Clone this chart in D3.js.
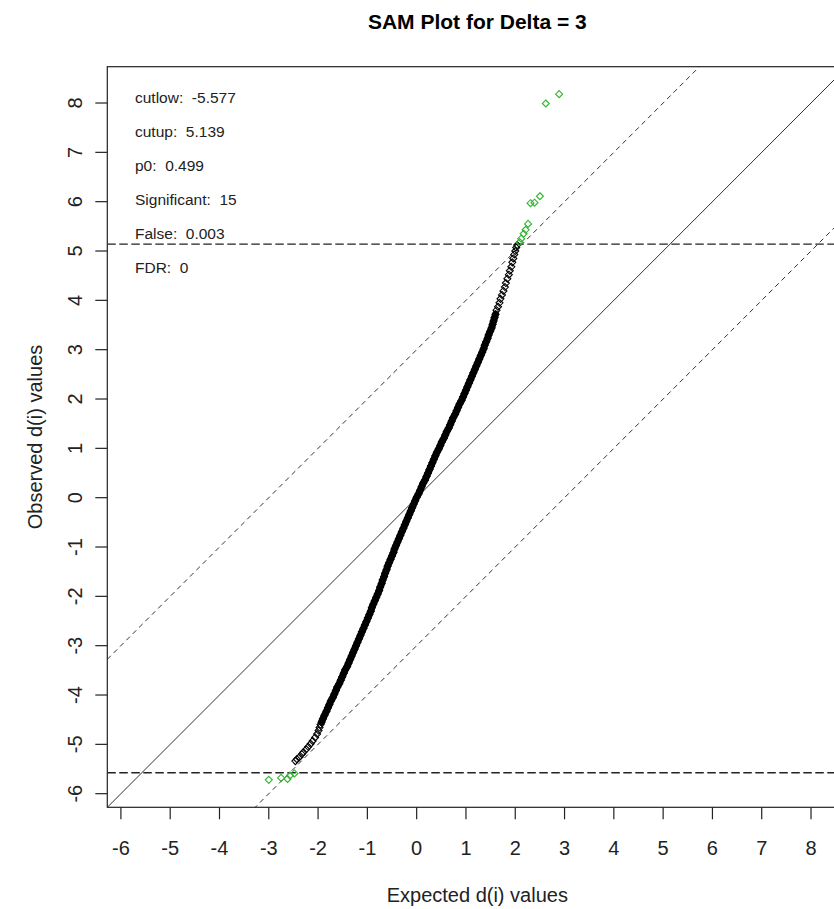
<!DOCTYPE html>
<html lang="en">
<head>
  <meta charset="UTF-8">
  <title>SAM Plot for Delta = 3</title>
  <script src="https://d3js.org/d3.v7.min.js"></script>
  <style>
    body { margin: 0; padding: 0; background: #fff; }
    svg { display: block; font-family: "Liberation Sans", Arial, sans-serif; }
    .frame { fill: none; stroke: #222; stroke-width: 1.2px; }
    .tick { stroke: #222; stroke-width: 1.2px; }
    .ticklab { font-size: 20px; fill: #222; text-anchor: middle; }
    .axtitle { font-size: 20px; fill: #222; text-anchor: middle; }
    .title { font-size: 21px; font-weight: bold; fill: #000; text-anchor: middle; }
    .stat { font-size: 15.5px; fill: #222; white-space: pre; }
  </style>
</head>
<body>
  <svg id="chart" width="834" height="909"></svg>

  <script>
    const delta = 3;
    const cutlow = -5.577;
    const cutup = 5.139;

    // dense part of the curve (thousands of genes packed together)
    const bandObserved = [
      -4.55, -4.48, -4.41, -4.33, -4.26, -4.19, -4.12, -4.05,
      -3.98, -3.91, -3.84, -3.77, -3.70, -3.63, -3.56,
      -3.49, -3.42, -3.35, -3.28, -3.21, -3.14, -3.07,
      -3.00, -2.93, -2.86, -2.79, -2.72, -2.65, -2.58,
      -2.51, -2.44, -2.37, -2.30, -2.23, -2.16, -2.09,
      -2.02, -1.95, -1.88, -1.81, -1.74, -1.67, -1.60, -1.53,
      -1.46, -1.39, -1.32, -1.25, -1.18, -1.11, -1.04,
      -0.97, -0.90, -0.83, -0.76, -0.69, -0.62, -0.55,
      -0.48, -0.41, -0.34, -0.27, -0.20, -0.13, -0.06,
      0.01, 0.08, 0.15, 0.22, 0.29, 0.36, 0.43,
      0.50, 0.57, 0.64, 0.71, 0.78, 0.85, 0.92,
      0.99, 1.06, 1.13, 1.20, 1.27, 1.34, 1.41, 1.48,
      1.55, 1.62, 1.69, 1.76, 1.83, 1.90, 1.97,
      2.04, 2.11, 2.18, 2.25, 2.32, 2.39, 2.46,
      2.53, 2.60, 2.67, 2.74, 2.81, 2.88, 2.95,
      3.02, 3.09, 3.16, 3.23, 3.30, 3.37, 3.44,
      3.51, 3.58, 3.65, 3.72
    ];
    const bandExpected = [
      -1.93, -1.90, -1.87, -1.83, -1.80, -1.77, -1.74, -1.70,
      -1.67, -1.64, -1.61, -1.57, -1.54, -1.51, -1.48,
      -1.45, -1.41, -1.38, -1.35, -1.32, -1.29, -1.26,
      -1.23, -1.20, -1.17, -1.14, -1.11, -1.08, -1.05,
      -1.02, -0.99, -0.96, -0.93, -0.91, -0.88, -0.85,
      -0.82, -0.79, -0.76, -0.74, -0.71, -0.69, -0.66, -0.64,
      -0.61, -0.59, -0.56, -0.53, -0.50, -0.47, -0.45,
      -0.42, -0.39, -0.36, -0.33, -0.30, -0.27, -0.24,
      -0.21, -0.18, -0.15, -0.12, -0.09, -0.06, -0.03,
      0.00, 0.04, 0.07, 0.10, 0.13, 0.17, 0.20,
      0.23, 0.26, 0.29, 0.32, 0.35, 0.38, 0.41,
      0.45, 0.48, 0.51, 0.55, 0.58, 0.61, 0.65, 0.68,
      0.71, 0.74, 0.78, 0.81, 0.84, 0.87, 0.91,
      0.94, 0.97, 1.00, 1.03, 1.06, 1.09, 1.12,
      1.15, 1.18, 1.21, 1.24, 1.27, 1.30, 1.33,
      1.36, 1.38, 1.41, 1.44, 1.46, 1.49, 1.52,
      1.54, 1.56, 1.58, 1.60
    ];

    // sparser tails, not called significant
    const tailObserved = [
      -5.34, -5.30, -5.26, -5.20, -5.16, -5.10, -5.05, -4.99, -4.93, -4.86, -4.79, -4.72, -4.66, -4.60,
      3.80, 3.87, 3.95, 4.03, 4.11, 4.19, 4.27, 4.35, 4.44, 4.52, 4.60, 4.68, 4.77, 4.85, 4.93, 5.00, 5.07, 5.12
    ];
    const tailExpected = [
      -2.46, -2.43, -2.38, -2.33, -2.30, -2.24, -2.20, -2.15, -2.11, -2.06, -2.02, -1.99, -1.97, -1.95,
      1.62, 1.65, 1.68, 1.70, 1.73, 1.76, 1.79, 1.81, 1.84, 1.87, 1.89, 1.92, 1.94, 1.96, 1.98, 2.00, 2.02, 2.04
    ];

    // the 15 significant genes
    const sigObserved = [-5.72, -5.68, -5.70, -5.63, -5.59,
      5.18, 5.25, 5.35, 5.43, 5.55, 5.97, 5.98, 6.11, 7.99, 8.18];
    const sigExpected = [-3.00, -2.75, -2.62, -2.57, -2.48,
      2.09, 2.12, 2.17, 2.21, 2.26, 2.31, 2.39, 2.50, 2.62, 2.89];

    const statLabels = ["cutlow:", "cutup:", "p0:", "Significant:", "False:", "FDR:"];
    const statValues = ["-5.577", "5.139", "0.499", "15", "0.003", "0"];

    const ticks = [-6, -5, -4, -3, -2, -1, 0, 1, 2, 3, 4, 5, 6, 7, 8];

    const pLeft = 107.3, pRight = 847.3, pTop = 66.7, pBottom = 807.3;

    const allVals = [].concat(bandObserved, tailObserved, sigObserved, bandExpected, tailExpected, sigExpected);
    const lo = d3.min(allVals), hi = d3.max(allVals);
    const pad = 0.04 * (hi - lo);
    const lim = [lo - pad, hi + pad];

    const x = d3.scaleLinear().domain(lim).range([pLeft, pRight]);
    const y = d3.scaleLinear().domain(lim).range([pBottom, pTop]);

    const svg = d3.select('#chart');

    svg.append('defs').append('clipPath').attr('id', 'plotclip')
      .append('rect')
      .attr('x', pLeft).attr('y', pTop)
      .attr('width', pRight - pLeft).attr('height', pBottom - pTop);

    const plot = svg.append('g').attr('clip-path', 'url(#plotclip)');

    // reference lines
    const diag = [
      { off: 0, dash: null, w: 1 },
      { off: delta, dash: '5,4', w: 1 },
      { off: -delta, dash: '5,4', w: 1 }
    ];
    plot.selectAll('.diag')
      .data(diag)
      .enter().append('line')
      .attr('class', 'diag')
      .attr('x1', x(lim[0])).attr('y1', d => y(lim[0] + d.off))
      .attr('x2', x(lim[1])).attr('y2', d => y(lim[1] + d.off))
      .attr('stroke', '#333')
      .attr('stroke-width', d => d.w)
      .attr('stroke-dasharray', d => d.dash);

    plot.selectAll('.cut')
      .data([cutup, cutlow])
      .enter().append('line')
      .attr('class', 'cut')
      .attr('x1', pLeft).attr('x2', pRight)
      .attr('y1', d => y(d)).attr('y2', d => y(d))
      .attr('stroke', '#222')
      .attr('stroke-width', 1.4)
      .attr('stroke-dasharray', '8.5,3.5');

    // points
    const band = bandExpected.map((e, i) => ({ e, o: bandObserved[i] }));
    const tails = tailExpected.map((e, i) => ({ e, o: tailObserved[i] }));
    const sig = sigExpected.map((e, i) => ({ e, o: sigObserved[i] }));

    plot.append('path')
      .datum(band)
      .attr('fill', 'none')
      .attr('stroke', '#000')
      .attr('stroke-width', 7)
      .attr('stroke-linecap', 'round')
      .attr('d', d3.line().x(d => x(d.e)).y(d => y(d.o)));

    const diamond = 'M0,-3.5L3.5,0L0,3.5L-3.5,0Z';

    plot.selectAll('.pt')
      .data(band.concat(tails))
      .enter().append('path')
      .attr('class', 'pt')
      .attr('d', diamond)
      .attr('transform', d => `translate(${x(d.e)},${y(d.o)})`)
      .attr('fill', 'none')
      .attr('stroke', '#000')
      .attr('stroke-width', 1.1);

    plot.selectAll('.sig')
      .data(sig)
      .enter().append('path')
      .attr('class', 'sig')
      .attr('d', diamond)
      .attr('transform', d => `translate(${x(d.e)},${y(d.o)})`)
      .attr('fill', 'none')
      .attr('stroke', '#2fb52f')
      .attr('stroke-width', 1.1);

    // frame
    svg.append('rect')
      .attr('class', 'frame')
      .attr('x', pLeft).attr('y', pTop)
      .attr('width', pRight - pLeft).attr('height', pBottom - pTop);

    // x axis
    svg.selectAll('.xtick')
      .data(ticks)
      .enter().append('line')
      .attr('class', 'tick')
      .attr('x1', d => x(d)).attr('x2', d => x(d))
      .attr('y1', pBottom).attr('y2', pBottom + 12);
    svg.selectAll('.xlab')
      .data(ticks)
      .enter().append('text')
      .attr('class', 'ticklab')
      .attr('x', d => x(d)).attr('y', 855)
      .text(d => d);

    // y axis
    svg.selectAll('.ytick')
      .data(ticks)
      .enter().append('line')
      .attr('class', 'tick')
      .attr('x1', pLeft - 12).attr('x2', pLeft)
      .attr('y1', d => y(d)).attr('y2', d => y(d));
    svg.selectAll('.ylab')
      .data(ticks)
      .enter().append('text')
      .attr('class', 'ticklab')
      .attr('transform', d => `translate(82,${y(d)}) rotate(-90)`)
      .text(d => d);

    // titles
    svg.append('text').attr('class', 'title')
      .attr('x', (pLeft + pRight) / 2).attr('y', 29)
      .text('SAM Plot for Delta = ' + delta);
    svg.append('text').attr('class', 'axtitle')
      .attr('x', (pLeft + pRight) / 2).attr('y', 902)
      .text('Expected d(i) values');
    svg.append('text').attr('class', 'axtitle')
      .attr('transform', `translate(42,${(pTop + pBottom) / 2}) rotate(-90)`)
      .text('Observed d(i) values');

    // summary statistics
    svg.selectAll('.stat')
      .data(statLabels)
      .enter().append('text')
      .attr('class', 'stat')
      .attr('x', 135)
      .attr('y', (d, i) => 102.5 + i * 34)
      .text((d, i) => d + '  ' + statValues[i]);
  </script>
</body>
</html>
